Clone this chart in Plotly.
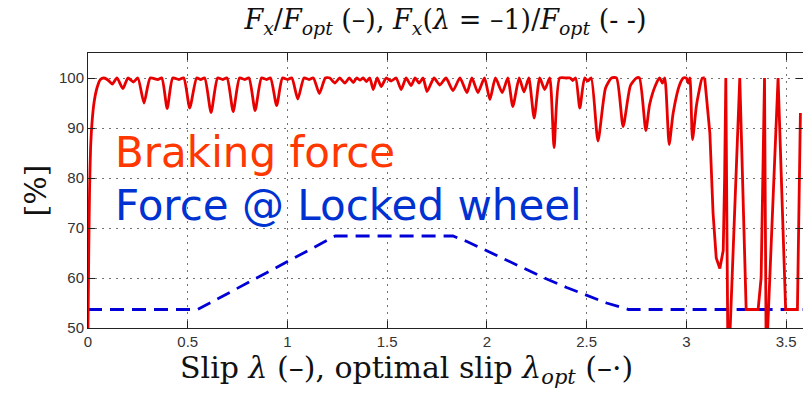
import plotly.graph_objects as go

# ---- data ----
red_x = [0.000, 0.004, 0.008, 0.013, 0.020, 0.030, 0.045, 0.062, 0.080, 0.100, 0.122, 0.145, 0.175, 0.200,
         0.228, 0.250, 0.281, 0.312, 0.350, 0.370, 0.397, 0.425, 0.455, 0.480, 0.510, 0.545, 0.565, 0.585,
         0.617, 0.650, 0.675, 0.697, 0.728, 0.760, 0.785, 0.807, 0.838, 0.870, 0.895, 0.915, 0.946, 0.975,
         1.000, 1.022, 1.052, 1.083, 1.108, 1.130, 1.160, 1.190, 1.212, 1.238, 1.262, 1.288, 1.310, 1.330,
         1.347, 1.363, 1.380, 1.396, 1.413, 1.430, 1.450, 1.470, 1.495, 1.520, 1.545, 1.570, 1.595, 1.620,
         1.640, 1.660, 1.680, 1.700, 1.735, 1.764, 1.795, 1.830, 1.865, 1.900, 1.925, 1.955, 1.988, 2.015,
         2.043, 2.077, 2.105, 2.130, 2.162, 2.186, 2.210, 2.237, 2.265, 2.290, 2.315, 2.337, 2.365, 2.400,
         2.418, 2.430, 2.445, 2.466, 2.490, 2.506, 2.523, 2.557, 2.595, 2.625, 2.650, 2.683, 2.720, 2.750,
         2.765, 2.797, 2.816, 2.845, 2.866, 2.880, 2.892, 2.914, 2.934, 2.965, 2.985, 3.000, 3.010, 3.018,
         3.031, 3.050, 3.062, 3.080, 3.092, 3.118, 3.134, 3.150, 3.168, 3.185, 3.192, 3.198, 3.208, 3.217,
         3.268, 3.300, 3.360, 3.375, 3.392, 3.400, 3.405, 3.460, 3.498, 3.557, 3.572]
red_y = [50.0, 66.0, 78.0, 86.0, 91.0, 95.0, 98.0, 99.7, 100.0, 99.6, 98.8, 100.0, 97.9, 100.0,
         99.2, 100.0, 95.0, 100.0, 99.7, 100.0, 93.9, 100.0, 99.7, 100.0, 94.0, 100.0, 99.7, 100.0,
         93.1, 100.0, 99.7, 100.0, 93.3, 100.0, 99.7, 100.0, 93.5, 100.0, 99.7, 100.0, 94.5, 100.0,
         99.7, 100.0, 95.8, 100.0, 99.7, 100.0, 96.9, 100.0, 100.0, 99.0, 100.0, 99.0, 100.0, 99.1,
         100.0, 99.6, 100.0, 99.3, 100.0, 97.7, 100.0, 98.3, 100.0, 99.4, 100.0, 97.7, 100.0, 98.5,
         100.0, 99.0, 100.0, 97.3, 100.0, 98.6, 100.0, 97.5, 100.0, 97.1, 100.0, 97.1, 100.0, 95.7,
         100.0, 97.1, 100.0, 94.3, 100.0, 97.2, 100.0, 92.0, 100.0, 97.7, 100.0, 86.1, 100.0, 100.0,
         100.0, 99.5, 100.0, 94.0, 100.0, 99.4, 100.0, 87.4, 98.0, 100.0, 100.0, 90.3, 98.5, 100.0,
         100.0, 89.5, 94.7, 98.5, 100.0, 99.0, 100.0, 86.7, 93.0, 98.5, 100.0, 100.0, 99.0, 100.0,
         87.7, 94.3, 97.0, 100.0, 100.0, 89.0, 73.0, 64.0, 61.9, 65.5, 80.0, 100.0, 47.0, 47.0,
         100.0, 53.7, 53.7, 60.0, 100.0, 47.0, 47.0, 100.0, 53.7, 53.7, 93.0]

blue_x = [0.0, 0.55, 1.24, 1.83, 1.90, 2.00, 2.10, 2.20, 2.30, 2.40, 2.50, 2.60, 2.71, 3.60]
blue_y = [53.7, 53.7, 68.4, 68.4, 67.3, 65.4, 63.5, 61.6, 59.8, 58.1, 56.5, 55.0, 53.7, 53.7]

x_ticks = [0, 0.5, 1, 1.5, 2, 2.5, 3, 3.5]
x_tick_labels = ["0", "0.5", "1", "1.5", "2", "2.5", "3", "3.5"]
y_ticks = [50, 60, 70, 80, 90, 100]
y_tick_labels = ["50", "60", "70", "80", "90", "100"]

# the smooth oscillating part is drawn as a spline, the chattering tail (after ~3.09) as straight segments
split_i = next(i for i, v in enumerate(red_x) if v >= 3.092)

fig = go.Figure()
fig.add_trace(go.Scatter(x=blue_x, y=blue_y, mode="lines",
                         line=dict(color="rgb(0,0,215)", width=2.8, dash="14px,8px"),
                         showlegend=False, hoverinfo="skip"))
fig.add_trace(go.Scatter(x=red_x[:split_i + 1], y=red_y[:split_i + 1], mode="lines",
                         line=dict(color="rgb(232,0,0)", width=2.8, shape="spline", smoothing=0.6),
                         showlegend=False, hoverinfo="skip"))
fig.add_trace(go.Scatter(x=red_x[split_i:], y=red_y[split_i:], mode="lines",
                         line=dict(color="rgb(232,0,0)", width=2.8),
                         showlegend=False, hoverinfo="skip"))

serif = "DejaVu Serif, Liberation Serif, serif"
axis_common = dict(showgrid=True, gridcolor="rgba(100,100,100,0.9)", griddash="2px,5px", gridwidth=1,
                   showline=True, linecolor="#222", linewidth=1, mirror="ticks",
                   ticks="inside", ticklen=7, tickcolor="#222", zeroline=False,
                   tickfont=dict(family="Liberation Sans, Arial, sans-serif", size=15, color="#333"))

fig.update_layout(
    width=803, height=394,
    margin=dict(l=88, r=0, t=53, b=66),
    paper_bgcolor="white", plot_bgcolor="white",
    title=dict(text="<i>F<sub>x</sub></i>/<i>F<sub>opt</sub></i> (–), <i>F<sub>x</sub></i>(<i>λ</i> = –1)/<i>F<sub>opt</sub></i> (- -)",
               x=0.5, xref="paper", xanchor="center", y=0.95, yref="container", yanchor="middle",
               font=dict(family=serif, size=27, color="#111")),
    xaxis=dict(range=[0, 3.585], tickvals=x_ticks, ticktext=x_tick_labels, **axis_common),
    yaxis=dict(range=[50, 105], tickvals=y_ticks, ticktext=y_tick_labels,
               title=dict(text="[%]", font=dict(family=serif, size=30, color="#111"), standoff=3),
               **axis_common),
    annotations=[
        dict(text="Braking force", x=113, y=152, showarrow=False, xanchor="left",
             font=dict(family="DejaVu Sans, Verdana, sans-serif", size=42, color="rgb(255,55,0)")),
        dict(text="Force @ Locked wheel", x=113, y=205, showarrow=False, xanchor="left",
             font=dict(family="DejaVu Sans, Verdana, sans-serif", size=42, color="rgb(0,50,210)")),
        # x-axis title (centred on the page, as in the reference)
        dict(text="Slip <i>λ</i> (–), optimal slip <i>λ<sub>opt</sub></i> (–·)", x=406, y=369,
             showarrow=False, xanchor="center",
             font=dict(family=serif, size=30, color="#111")),
    ],
)

# position annotations given in pixel terms -> paper coords
pw, ph = 803 - 88 - 0, 394 - 53 - 66
anns = []
for a in fig.layout.annotations:
    px, py = a.x, a.y
    a.xref = "paper"
    a.yref = "paper"
    a.x = (px - 88) / pw
    a.y = 1 - (py - 53) / ph
    a.yanchor = "middle"
    anns.append(a)
fig.layout.annotations = anns

fig.write_html("out.html")
